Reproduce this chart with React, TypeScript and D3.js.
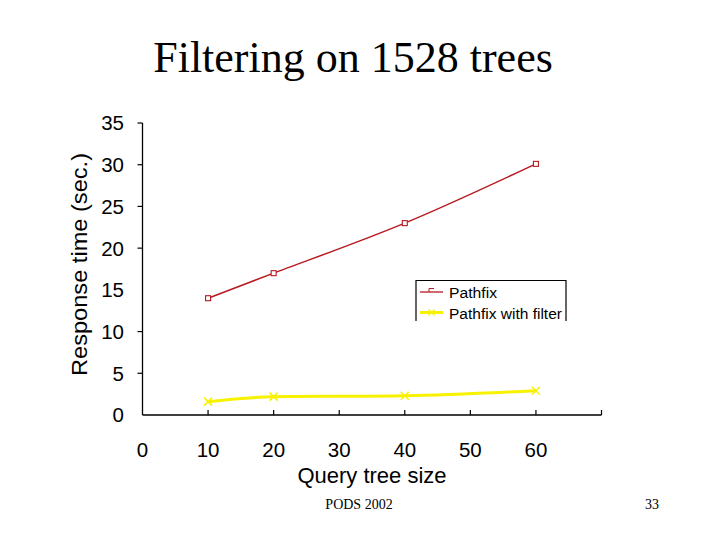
import React from "react";
import * as d3 from "d3";

const querySizes = [10, 20, 40, 60];
const pathfix = [14, 17, 23, 30.1];
const pathfixFilter = [1.6, 2.2, 2.3, 2.9];
const xTickLabels = [0, 10, 20, 30, 40, 50, 60];
const xTickMarks = [10, 20, 30, 40, 50, 60, 70];
const yTickLabels = [0, 5, 10, 15, 20, 25, 30, 35];
const yTickMarks = [5, 10, 20, 25, 30, 35];
const seriesNames = ["Pathfix", "Pathfix with filter"];

const RED = "#b81a22";
const YELLOW = "#f8f200";

export default function App() {
  const x = d3.scaleLinear().domain([0, 70]).range([142.5, 601.5]);
  const y = d3.scaleLinear().domain([0, 35]).range([415, 123]);
  const line = d3
    .line<[number, number]>()
    .x((d) => x(d[0]))
    .y((d) => y(d[1]))
    .curve(d3.curveCatmullRom.alpha(0));
  const redPts: [number, number][] = querySizes.map((q, i) => [q, pathfix[i]]);
  const yelPts: [number, number][] = querySizes.map((q, i) => [q, pathfixFilter[i]]);
  const arial = "Arial, 'Liberation Sans', Helvetica, sans-serif";
  const serif = "'Times New Roman', 'Liberation Serif', Times, serif";

  return (
    <svg
      width={720}
      height={540}
      style={{ position: "absolute", left: 0, top: 0, background: "#fff" }}
    >
      <rect x={0} y={0} width={720} height={540} fill="#fff" />
      <text x={353} y={72} textAnchor="middle" fontFamily={serif} fontSize={44} fill="#000">
        Filtering on 1528 trees
      </text>

      {/* axes */}
      <line x1={x(0)} x2={x(0)} y1={y(35)} y2={y(0)} stroke="#000" strokeWidth={1.3} />
      <line x1={x(0)} x2={x(70)} y1={y(0)} y2={y(0)} stroke="#000" strokeWidth={1.3} />
      {yTickMarks.map((t) => (
        <line key={"yt" + t} x1={x(0) - 5} x2={x(0)} y1={y(t)} y2={y(t)} stroke="#000" strokeWidth={1.2} />
      ))}
      {xTickMarks.map((t) => (
        <line key={"xt" + t} x1={x(t)} x2={x(t)} y1={y(0) - 5} y2={y(0)} stroke="#000" strokeWidth={1.2} />
      ))}
      {yTickLabels.map((t) => (
        <text
          key={"yl" + t}
          x={124}
          y={y(t)}
          dy="0.36em"
          textAnchor="end"
          fontFamily={arial}
          fontSize={20.5}
          fill="#000"
        >
          {t}
        </text>
      ))}
      {xTickLabels.map((t) => (
        <text
          key={"xl" + t}
          x={x(t)}
          y={457}
          textAnchor="middle"
          fontFamily={arial}
          fontSize={20.5}
          fill="#000"
        >
          {t}
        </text>
      ))}
      <text x={372} y={483} textAnchor="middle" fontFamily={arial} fontSize={22} fill="#000">
        Query tree size
      </text>
      <text
        transform="translate(87,264.5) rotate(-90)"
        textAnchor="middle"
        fontFamily={arial}
        fontSize={22.5}
        textLength={223}
        lengthAdjust="spacingAndGlyphs"
        fill="#000"
      >
        Response time (sec.)
      </text>

      {/* series */}
      <path d={line(redPts) || ""} fill="none" stroke={RED} strokeWidth={1.5} />
      {redPts.map((p, i) => (
        <rect
          key={"rm" + i}
          x={x(p[0]) - 2.5}
          y={y(p[1]) - 2.5}
          width={5}
          height={5}
          fill="#fff"
          stroke={RED}
          strokeWidth={1.1}
        />
      ))}
      <path d={line(yelPts) || ""} fill="none" stroke={YELLOW} strokeWidth={3} />
      {yelPts.map((p, i) => (
        <g key={"ym" + i} stroke={YELLOW} strokeWidth={1.5}>
          <line x1={x(p[0]) - 4} x2={x(p[0]) + 4} y1={y(p[1]) - 4} y2={y(p[1]) + 4} />
          <line x1={x(p[0]) - 4} x2={x(p[0]) + 4} y1={y(p[1]) + 4} y2={y(p[1]) - 4} />
        </g>
      ))}

      {/* legend (bottom edge clipped) */}
      <path d="M416,321 V280.5 H566 V321" fill="none" stroke="#000" strokeWidth={1.2} />
      <line x1={420} x2={443} y1={292} y2={292} stroke={RED} strokeWidth={1.3} />
      <path d="M429,292 V288.5 H434" fill="none" stroke={RED} strokeWidth={1} />
      <text x={449} y={298} fontFamily={arial} fontSize={15.5} fill="#000" textLength={48} lengthAdjust="spacingAndGlyphs">
        {seriesNames[0]}
      </text>
      <line x1={420} x2={443} y1={312.5} y2={312.5} stroke={YELLOW} strokeWidth={3} />
      <g stroke={YELLOW} strokeWidth={1.2}>
        <line x1={428.5} x2={434.5} y1={309.5} y2={315.5} />
        <line x1={428.5} x2={434.5} y1={315.5} y2={309.5} />
      </g>
      <text x={449} y={319} fontFamily={arial} fontSize={15.5} fill="#000" textLength={113} lengthAdjust="spacingAndGlyphs">
        {seriesNames[1]}
      </text>

      {/* footer */}
      <text x={359} y={509} textAnchor="middle" fontFamily={serif} fontSize={14} fill="#000">
        PODS 2002
      </text>
      <text x={652} y={509} textAnchor="middle" fontFamily={serif} fontSize={14} fill="#000">
        33
      </text>
    </svg>
  );
}
